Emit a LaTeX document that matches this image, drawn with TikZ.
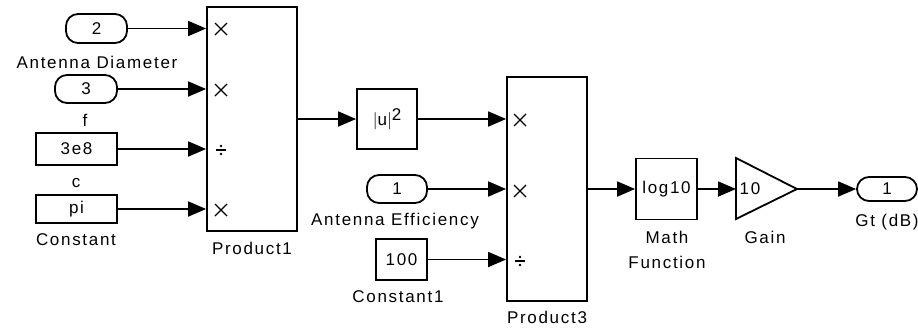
\documentclass[tikz,border=0pt]{standalone}
\usepackage{fontspec}
\setmainfont{Liberation Sans}[LetterSpace=10]
\usetikzlibrary{arrows.meta}
\begin{document}
\begin{tikzpicture}[x=1pt,y=-1pt,
  line width=1.8pt,
  every node/.style={font=\fontsize{17}{19}\selectfont, inner sep=0pt},
  blk/.style={draw, rectangle, line width=1.8pt},
  port/.style={draw, rectangle, rounded corners=12pt, line width=1.8pt},
  lbl/.style={align=center},
  arr/.style={-{Triangle[length=18pt,width=15pt]}},
  sgn/.style={line width=1.1pt}]
\useasboundingbox[fill=white] (0,0) rectangle (918,330);
\newcommand{\crossat}[1]{\draw[sgn] ([shift={(-6,-6)}]#1) -- ([shift={(6,6)}]#1) ([shift={(-6,6)}]#1) -- ([shift={(6,-6)}]#1);}
\newcommand{\divat}[1]{\draw[sgn] ([shift={(-5,0)}]#1) -- ([shift={(5,0)}]#1); \fill ([shift={(0,-4)}]#1) circle (1.3pt) ([shift={(0,4)}]#1) circle (1.3pt);}

% left inputs
\node[port, minimum width=61pt, minimum height=29pt] (in2) at (96.5,28.5) {2};
\node[lbl] (lAD) at (97,62) {Antenna Diameter};
\node[port, minimum width=62pt, minimum height=28pt] (in3) at (86,89) {3};
\node[lbl] (lf) at (85,120) {f};
\node[blk, minimum width=81pt, minimum height=32pt] (c3e8) at (76.5,149) {3e8};
\node[lbl] (lc) at (76,183) {c};
\node[blk, minimum width=81pt, minimum height=28pt] (cpi) at (76.5,209) {pi};
\node[lbl] (lC) at (76,240) {Constant};

% Product1
\node[blk, minimum width=90pt, minimum height=224pt] (P1) at (252,119) {};
\node[lbl] (lP1) at (252,248) {Product1};
\coordinate (s1) at (221,29);
\coordinate (s2) at (221,90);
\coordinate (s3) at (221,150);
\coordinate (s4) at (221,210);
\crossat{s1}
\crossat{s2}
\divat{s3}
\crossat{s4}

\draw[arr] (in2.east) -- (in2.east -| P1.west);
\draw[arr] (in3.east) -- (in3.east -| P1.west);
\draw[arr] (c3e8.east) -- (c3e8.east -| P1.west);
\draw[arr] (cpi.east) -- (cpi.east -| P1.west);

% |u|^2
\node[blk, minimum width=60pt, minimum height=60pt] (abs) at (387,119) {$\vert$u$\vert$\raisebox{0.6ex}{2}};
\draw[arr] (P1.east) -- (abs.west);

% Product3
\node[blk, minimum width=80pt, minimum height=224pt] (P3) at (547,189) {};
\node[lbl] (lP3) at (547,317) {Product3};
\coordinate (t1) at (520,120);
\coordinate (t2) at (520,191);
\coordinate (t3) at (520,261);
\crossat{t1}
\crossat{t2}
\divat{t3}

\node[port, minimum width=60pt, minimum height=28pt] (in1) at (397,189) {1};
\node[lbl] (lAE) at (395,221) {Antenna Efficiency};
\node[blk, minimum width=51pt, minimum height=41pt] (c100) at (401.5,259.5) {100};
\node[lbl] (lC1) at (398,297) {Constant1};

\draw[arr] (abs.east) -- (abs.east -| P3.west);
\draw[arr] (in1.east) -- (in1.east -| P3.west);
\draw[arr] (c100.east) -- (c100.east -| P3.west);

% Math function
\node[blk, minimum width=61pt, minimum height=61pt] (MF) at (666.5,189) {log10};
\node[lbl] (lMF) at (667,250) {Math\\[6pt]Function};
\draw[arr] (P3.east) -- (MF.west);

% Gain
\coordinate (gin) at (736,189);
\coordinate (gout) at (797,189);
\draw[line width=1.8pt, line join=miter] (736,158) -- (gout) -- (736,219) -- cycle;
\node (gtxt) at (750,189) {10};
\node[lbl] (lG) at (765,237) {Gain};
\draw[arr] (MF.east) -- (gin);

% Outport
\node[port, minimum width=60pt, minimum height=24pt] (out1) at (887,189) {1};
\node[lbl] (lGt) at (887,222) {Gt (dB)};
\draw[arr] (gout) -- (out1.west);
\end{tikzpicture}
\end{document}
